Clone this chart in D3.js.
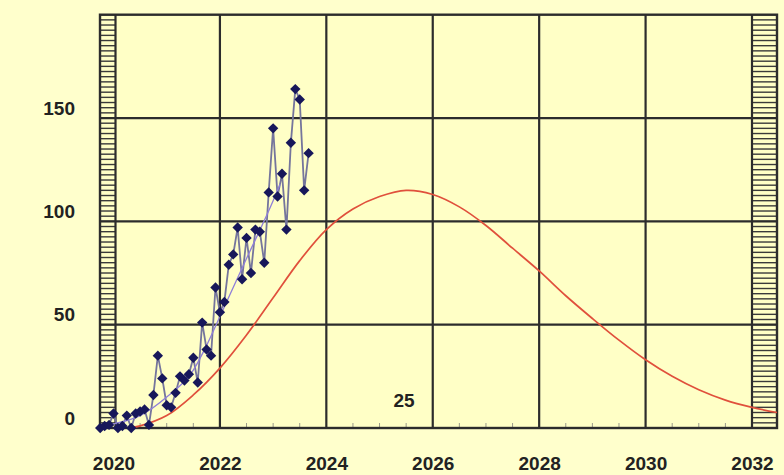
<!DOCTYPE html>
<html>
<head>
<meta charset="utf-8">
<script src="https://cdn.jsdelivr.net/npm/d3@7"></script>
<style>
    html, body { margin: 0; padding: 0; background: #ffffcc; }
    svg { display: block; font-family: "Liberation Sans", Arial, sans-serif; }
</style>
</head>
<body>
<svg id="chart" width="784" height="475"></svg>
<script>
// Cycle 25 sunspot chart: monthly values + smoothed line + predicted curve

// Monthly sunspot numbers, first value = Oct 2019
const ssnStart = [2019, 10];
const monthlySSN = [
    0, 1, 1.5,
    7, 0, 1, 6, 0, 7, 8, 9, 1.5, 16, 35, 24,
    11, 10, 17, 25, 23, 26, 34, 22, 51, 38, 35, 68,
    56, 61, 79, 84, 97, 72, 92, 75, 96, 95, 80, 114,
    145, 112, 123, 96, 138, 164, 159, 115, 133
];

// Smoothed (thin purple) line
const smoothYears  = [2019.8, 2020.0, 2020.5, 2021.0, 2021.5, 2021.75, 2022.0, 2022.5, 2023.0, 2023.13];
const smoothValues = [1, 2, 6, 15, 28, 40, 54, 82, 110, 118];

// Predicted cycle curve (red), read every half year
const predYears  = [2020.3, 2020.5, 2021.0, 2021.5, 2022.0, 2022.5, 2023.0, 2023.5, 2024.0,
                    2024.5, 2025.0, 2025.5, 2026.0, 2026.5, 2027.0, 2027.5, 2028.0, 2028.5, 2029.0,
                    2029.5, 2030.0, 2030.5, 2031.0, 2031.5, 2032.0, 2032.47];
const predValues = [0, 1, 6, 16, 29, 45, 63, 81, 96,
                    106, 112, 115, 113, 107, 98, 87, 76, 64, 53,
                    42.5, 33, 25, 18.5, 13.5, 10, 7.5];

// Axis ticks
const xTicks = [2020, 2022, 2024, 2026, 2028, 2030, 2032];
const yTicks = [0, 50, 100, 150];
const cycleLabel = "25";

(function() {
    const svg = d3.select('#chart');

    const frame = {left: 100, right: 777, top: 14.7, bottom: 428};

    const x = d3.scaleLinear().domain([2020, 2032]).range([113.5, 752]);
    const y = d3.scaleLinear().domain([0, 200]).range([frame.bottom, frame.top]);

    const gridColor = '#2c2c2c';

    // plot background
    svg.append('rect')
        .attr('x', frame.left).attr('y', frame.top)
        .attr('width', frame.right - frame.left)
        .attr('height', frame.bottom - frame.top)
        .attr('fill', '#ffffc6');

    // hatched strips left and right (dense y ticks)
    const stripTicks = d3.range(0, 200.01, 2.5);
    const strips = svg.append('g').attr('class', 'strips')
        .attr('stroke', '#3a3a3a').attr('stroke-width', 1.4);
    strips.selectAll('line.l')
        .data(stripTicks)
        .join('line')
        .attr('class', 'l')
        .attr('x1', frame.left).attr('x2', x(2020) + 2)
        .attr('y1', d => y(d)).attr('y2', d => y(d));
    strips.selectAll('line.r')
        .data(stripTicks)
        .join('line')
        .attr('class', 'r')
        .attr('x1', x(2032)).attr('x2', frame.right)
        .attr('y1', d => y(d)).attr('y2', d => y(d));

    // minor x ticks every half year
    const minorX = d3.range(2020, 2032.5, 0.5).filter(d => d % 2 !== 0);
    svg.append('g')
        .selectAll('line')
        .data(minorX)
        .join('line')
        .attr('x1', d => x(d)).attr('x2', d => x(d))
        .attr('y1', frame.bottom).attr('y2', frame.bottom - 5)
        .attr('stroke', '#9a9a8a').attr('stroke-width', 1);

    // gridlines
    const grid = svg.append('g').attr('stroke', gridColor).attr('stroke-width', 2.2);
    grid.selectAll('line.v')
        .data(xTicks)
        .join('line')
        .attr('class', 'v')
        .attr('x1', d => x(d) + (d === 2020 ? 2 : 0)).attr('x2', d => x(d) + (d === 2020 ? 2 : 0))
        .attr('y1', frame.top).attr('y2', frame.bottom);
    grid.selectAll('line.h')
        .data(yTicks.filter(d => d > 0))
        .join('line')
        .attr('class', 'h')
        .attr('x1', frame.left).attr('x2', frame.right)
        .attr('y1', d => y(d)).attr('y2', d => y(d));

    // frame
    svg.append('rect')
        .attr('x', frame.left).attr('y', frame.top)
        .attr('width', frame.right - frame.left)
        .attr('height', frame.bottom - frame.top)
        .attr('fill', 'none')
        .attr('stroke', gridColor).attr('stroke-width', 2.4);

    // predicted curve
    const predLine = d3.line()
        .x((d, i) => x(predYears[i]))
        .y(d => y(d))
        .curve(d3.curveCatmullRom);
    svg.append('path')
        .attr('d', predLine(predValues))
        .attr('fill', 'none')
        .attr('stroke', '#e0503c')
        .attr('stroke-width', 1.7);

    // monthly data
    const monthly = monthlySSN.map((v, i) => {
        const m = ssnStart[1] - 1 + i;
        return {year: ssnStart[0] + Math.floor(m / 12) + (m % 12) / 12, value: v};
    });

    const dataLine = d3.line()
        .x(d => x(d.year))
        .y(d => y(d.value));
    svg.append('path')
        .attr('d', dataLine(monthly))
        .attr('fill', 'none')
        .attr('stroke', '#75759c')
        .attr('stroke-width', 1.8);

    // smoothed line
    const smoothLine = d3.line()
        .x((d, i) => x(smoothYears[i]))
        .y(d => y(d))
        .curve(d3.curveMonotoneX);
    svg.append('path')
        .attr('d', smoothLine(smoothValues))
        .attr('fill', 'none')
        .attr('stroke', '#8f7fd8')
        .attr('stroke-width', 1.3);

    // diamonds
    const r = 5.2;
    svg.append('g')
        .selectAll('path')
        .data(monthly)
        .join('path')
        .attr('transform', d => `translate(${x(d.year)},${y(d.value)})`)
        .attr('d', `M0,${-r}L${r},0L0,${r}L${-r},0Z`)
        .attr('fill', '#17175a');

    // axes labels
    const xAxis = svg.append('g')
        .attr('transform', `translate(0,${frame.bottom})`)
        .call(d3.axisBottom(x).tickValues(xTicks).tickFormat(d3.format('d')).tickSize(0).tickPadding(29));
    const yAxis = svg.append('g')
        .attr('transform', 'translate(75,0)')
        .call(d3.axisLeft(y).tickValues(yTicks).tickSize(0).tickPadding(0));

    [xAxis, yAxis].forEach(g => {
        g.select('.domain').remove();
        g.selectAll('text')
            .style('font-family', '"Liberation Sans", Arial, sans-serif')
            .style('font-size', '19px')
            .style('font-weight', 'bold')
            .style('fill', '#222');
    });
    yAxis.selectAll('text').attr('y', -10);

    svg.append('text')
        .attr('x', x(2025.46))
        .attr('y', y(13.3))
        .attr('dy', '0.35em')
        .attr('text-anchor', 'middle')
        .style('font-size', '19px')
        .style('font-weight', 'bold')
        .style('fill', '#222')
        .text(cycleLabel);
})();
</script>
</body>
</html>
